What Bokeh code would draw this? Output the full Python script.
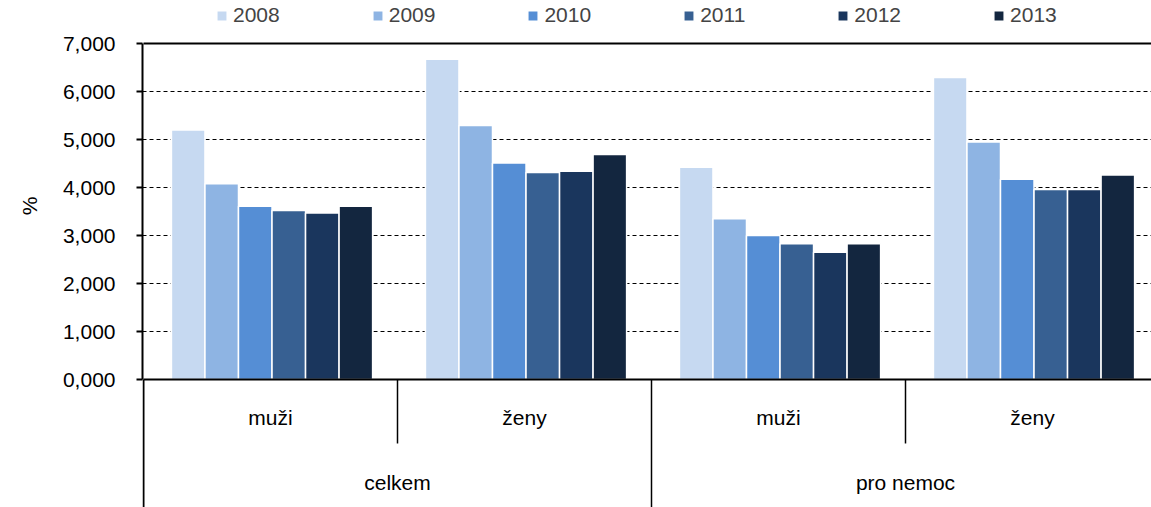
from bokeh.plotting import figure
from bokeh.models import FixedTicker, Legend, LegendItem, ColumnDataSource, Title
from bokeh.core.properties import value
from bokeh.embed import file_html
from bokeh.resources import INLINE

years = ["2008", "2009", "2010", "2011", "2012", "2013"]
inner_labels = ["muži", "ženy", "muži", "ženy"]
outer_labels = ["celkem", "pro nemoc"]
v2008 = [5.20, 6.67, 4.42, 6.29]
v2009 = [4.08, 5.29, 3.35, 4.95]
v2010 = [3.61, 4.51, 3.00, 4.17]
v2011 = [3.52, 4.31, 2.83, 3.96]
v2012 = [3.47, 4.34, 2.65, 3.96]
v2013 = [3.61, 4.69, 2.83, 4.26]
series = [v2008, v2009, v2010, v2011, v2012, v2013]
colors = ["#C6D9F1", "#8EB4E3", "#558ED5", "#376092", "#1A365D", "#13263F"]
y_ticks = [0, 1, 2, 3, 4, 5, 6, 7]
y_tick_labels = ["0,000", "1,000", "2,000", "3,000", "4,000", "5,000", "6,000", "7,000"]

FONT = "Liberation Sans"
FS = "21px"
n_groups = len(inner_labels)
slot = 0.132
px = 1.0 / 254.0      # one screen pixel in x data units
py = 1.0 / 48.0       # one screen pixel in y data units

p = figure(width=1151, height=507, output_backend="svg", toolbar_location=None,
           x_range=(-px, 1008 * px), y_range=(-128 * py, 7 + 43 * py),
           min_border_left=142, min_border_right=0, min_border_top=0,
           min_border_bottom=0)
p.outline_line_color = None
p.xaxis.visible = False
p.xgrid.visible = False

p.ygrid.ticker = FixedTicker(ticks=y_ticks[1:-1])
p.ygrid.grid_line_color = "black"
p.ygrid.grid_line_dash = "4 3"
p.ygrid.grid_line_width = 1

yax = p.yaxis[0]
yax.bounds = (0, 7)
yax.ticker = FixedTicker(ticks=y_ticks)
yax.major_label_overrides = {t: l for t, l in zip(y_ticks, y_tick_labels)}
yax.axis_line_width = 2
yax.axis_line_color = "black"
yax.major_tick_line_width = 2
yax.major_tick_out = 6
yax.major_tick_in = 0
yax.minor_tick_line_color = None
yax.major_label_standoff = 21
yax.major_label_text_font = FONT
yax.major_label_text_font_size = FS
yax.major_label_text_color = "#000000"

p.add_layout(Title(text="%", align="right", offset=196, standoff=34,
                   vertical_align="top", text_font=FONT, text_font_size=FS,
                   text_font_style="normal", text_color="#000000"), "left")

renderers = []
for j, (yr, vals, c) in enumerate(zip(years, series, colors)):
    xs = [i + 0.506 + (j - 2.5) * slot for i in range(n_groups)]
    src = ColumnDataSource(dict(x=xs, top=vals))
    r = p.vbar(x="x", top="top", width=slot, bottom=0, source=src,
               fill_color=c, line_color="white", line_width=1.5)
    renderers.append((yr, r))

# baseline and top border, lower part of the left axis
p.segment(x0=[0, 0], y0=[0, 7], x1=[4, 4], y1=[0, 7], line_color="black", line_width=2)
p.segment(x0=[0], y0=[0], x1=[0], y1=[-128 * py], line_color="black", line_width=2)

# category separators
inner_sep_x = [i for i in range(1, n_groups) if i % 2 == 1]
outer_sep_x = [i for i in range(2, n_groups + 1, 2)]
p.segment(x0=inner_sep_x, y0=[0] * len(inner_sep_x), x1=inner_sep_x,
          y1=[-1.333] * len(inner_sep_x), line_color="black", line_width=1.5)
p.segment(x0=outer_sep_x, y0=[0] * len(outer_sep_x), x1=outer_sep_x,
          y1=[-128 * py] * len(outer_sep_x), line_color="black", line_width=1.5)

p.text(x=[i + 0.5 for i in range(n_groups)], y=[-0.80] * n_groups, text=inner_labels,
       text_align="center", text_baseline="middle", text_font=value(FONT),
       text_font_size=FS, text_color="black")
p.text(x=[2 * k + 1 for k in range(len(outer_labels))], y=[-2.14] * len(outer_labels),
       text=outer_labels, text_align="center", text_baseline="middle",
       text_font=value(FONT), text_font_size=FS, text_color="black")

legend = Legend(items=[LegendItem(label=yr, renderers=[r]) for yr, r in renderers],
                orientation="horizontal", location=(73, 480),
                background_fill_alpha=0, border_line_alpha=0, padding=0, margin=0,
                spacing=91, glyph_width=13, glyph_height=13, label_standoff=5,
                label_height=20, label_text_font=FONT, label_text_font_size=FS,
                label_text_baseline="middle")
p.add_layout(legend)

open("out.html", "w").write(file_html(p, INLINE))
